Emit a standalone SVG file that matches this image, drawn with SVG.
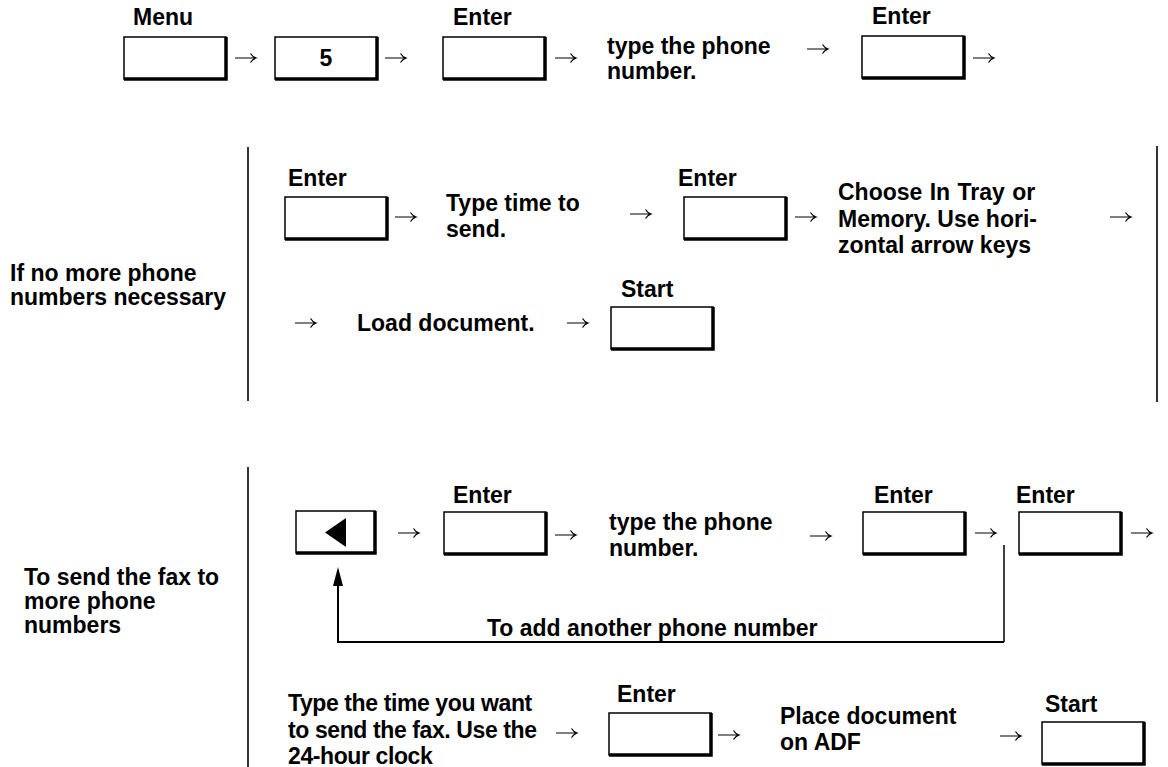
<svg xmlns="http://www.w3.org/2000/svg" xmlns:xlink="http://www.w3.org/1999/xlink" width="1168" height="767" viewBox="0 0 1168 767">
<style>
.t{font-family:"Liberation Sans",Arial,sans-serif;font-weight:bold;font-size:23px;fill:#000}
.c{letter-spacing:-0.4px}
.ln{fill:none;stroke:#000;stroke-width:1.6}
.k{fill:#fff;stroke:#000;stroke-width:1.5}
.kb{fill:none;stroke:#000;stroke-width:3.5}
</style>
<defs>
<g id="key"><rect class="k" x="0" y="0" width="102" height="42"/><path class="kb" d="M102,0 V42 H0"/></g>
<path id="arr" d="M0,0 H21 M15.5,-4.5 Q17.5,-1.2 21,0 Q17.5,1.2 15.5,4.5" fill="none" stroke="#000" stroke-width="1.2"/>
</defs>
<rect width="1168" height="767" fill="#fff"/>

<!-- section dividers -->
<g id="dividers">
<line class="ln" x1="248" y1="147" x2="248" y2="401"/>
<line class="ln" x1="1157" y1="146" x2="1157" y2="402"/>
<line class="ln" x1="248" y1="467" x2="248" y2="767"/>
</g>

<!-- Row 1 -->
<g id="menu"><text class="t" x="133" y="25">Menu</text><use xlink:href="#key" x="124" y="37"/></g>
<g id="key5"><use xlink:href="#key" x="275" y="37"/><text class="t" x="326" y="66" text-anchor="middle">5</text></g>
<g id="enter1"><text class="t" x="453" y="25">Enter</text><use xlink:href="#key" x="443" y="37"/></g>
<g id="phone1"><text class="t" x="607" y="54">type the phone</text><text class="t" x="607" y="79">number.</text></g>
<g id="enter2"><text class="t" x="872" y="24">Enter</text><use xlink:href="#key" x="862" y="36"/></g>

<!-- Section 2 -->
<g id="label-nomore"><text class="t" x="10" y="281">If no more phone</text><text class="t" x="10" y="305">numbers necessary</text></g>
<g id="enter3"><text class="t" x="288" y="186">Enter</text><use xlink:href="#key" x="285" y="197"/></g>
<g id="typetime"><text class="t" x="446" y="211">Type time to</text><text class="t" x="446" y="237">send.</text></g>
<g id="enter4"><text class="t" x="678" y="186">Enter</text><use xlink:href="#key" x="684" y="197"/></g>
<g id="choose"><text class="t" x="838" y="200" word-spacing="1">Choose In Tray or</text><text class="t" x="838" y="227">Memory. Use hori-</text><text class="t" x="838" y="253">zontal arrow keys</text></g>
<g id="load"><text class="t" x="357" y="331">Load document.</text></g>
<g id="start1"><text class="t" x="621" y="297">Start</text><use xlink:href="#key" x="611" y="307"/></g>

<!-- Section 3 -->
<g id="label-more"><text class="t" x="24" y="585">To send the fax to</text><text class="t" x="24" y="609">more phone</text><text class="t" x="24" y="633">numbers</text></g>
<g id="leftkey"><rect class="k" x="296" y="511" width="79" height="42"/><path class="kb" d="M375,511 V553 H296"/><polygon points="325,532.5 346,518 346,547" fill="#000"/></g>
<g id="enter5"><text class="t" x="453" y="503">Enter</text><use xlink:href="#key" x="444" y="512"/></g>
<g id="phone2"><text class="t" x="609" y="530">type the phone</text><text class="t" x="609" y="556">number.</text></g>
<g id="enter6"><text class="t" x="874" y="503">Enter</text><use xlink:href="#key" x="863" y="512"/></g>
<g id="enter7"><text class="t" x="1016" y="503">Enter</text><use xlink:href="#key" x="1019" y="512"/></g>
<g id="loop-label"><text class="t" x="487" y="636">To add another phone number</text></g>
<g id="typetime2"><text class="t c" x="288" y="711">Type the time you want</text><text class="t c" x="288" y="738">to send the fax. Use the</text><text class="t c" x="288" y="764">24-hour clock</text></g>
<g id="enter8"><text class="t" x="617" y="702">Enter</text><use xlink:href="#key" x="609" y="713"/></g>
<g id="place"><text class="t" x="780" y="724">Place document</text><text class="t" x="780" y="750">on ADF</text></g>
<g id="start2"><text class="t" x="1045" y="712">Start</text><use xlink:href="#key" x="1042" y="722"/></g>

<!-- connectors -->
<g id="connectors">
<use xlink:href="#arr" x="235" y="58"/>
<use xlink:href="#arr" x="385" y="58"/>
<use xlink:href="#arr" x="555" y="58"/>
<use xlink:href="#arr" x="807" y="49"/>
<use xlink:href="#arr" x="973" y="58"/>
<use xlink:href="#arr" x="395" y="217"/>
<use xlink:href="#arr" x="630" y="214"/>
<use xlink:href="#arr" x="795" y="217"/>
<use xlink:href="#arr" x="1110" y="217"/>
<use xlink:href="#arr" x="295" y="323"/>
<use xlink:href="#arr" x="567" y="323"/>
<use xlink:href="#arr" x="398" y="533"/>
<use xlink:href="#arr" x="555" y="535"/>
<use xlink:href="#arr" x="810" y="536"/>
<use xlink:href="#arr" x="975" y="533"/>
<use xlink:href="#arr" x="1131" y="533"/>
<use xlink:href="#arr" x="556" y="733"/>
<use xlink:href="#arr" x="718" y="735"/>
<use xlink:href="#arr" x="1000" y="736"/>
<path d="M1004,545 V642" fill="none" stroke="#000" stroke-width="1.5"/>
<path d="M1004,642 H338 V584" fill="none" stroke="#000" stroke-width="2"/>
<polygon points="338,567 333,586 343,586" fill="#000"/>
</g>
</svg>
